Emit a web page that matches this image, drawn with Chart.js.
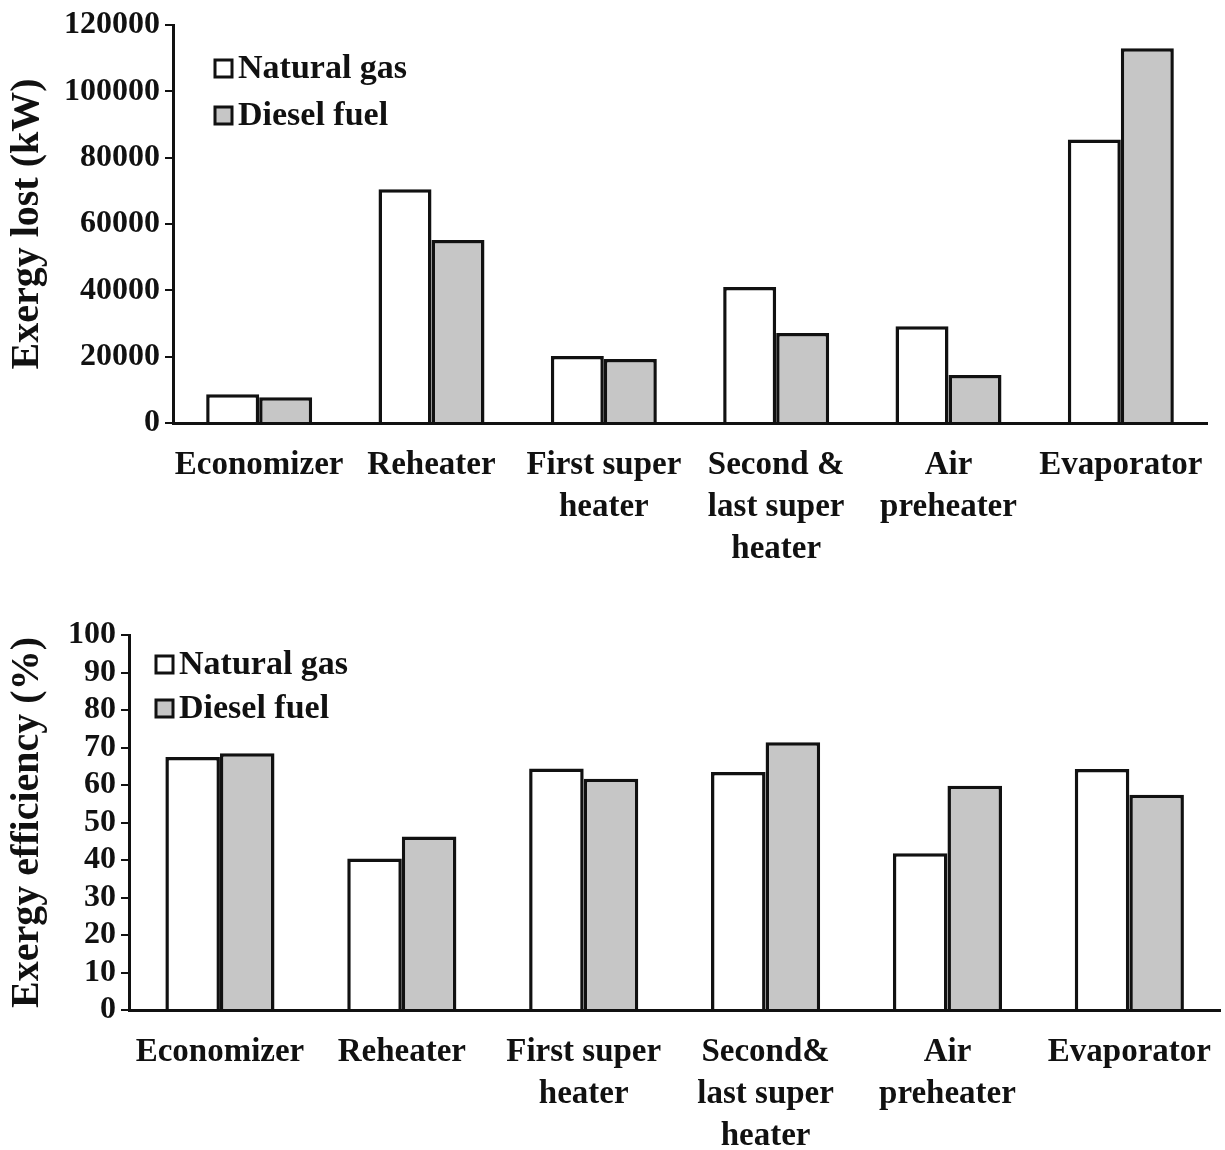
<!DOCTYPE html>
<html>
<head>
<meta charset="utf-8">
<script src="https://cdn.jsdelivr.net/npm/chart.js@4.4.1/dist/chart.umd.min.js"></script>
<style>
  html, body { margin: 0; padding: 0; background: #fff; }
  #wrap { position: relative; width: 1225px; height: 1150px; }
  #lostBox { position: absolute; left: 0; top: 0; }
  #effBox { position: absolute; left: 0; top: 580px; }
</style>
</head>
<body>
<div id="wrap">
  <div id="lostBox"><canvas id="lostChart" width="1225" height="580"></canvas></div>
  <div id="effBox"><canvas id="effChart" width="1225" height="570"></canvas></div>
</div>
<script>
// categories
const lostCategories = ["Economizer", "Reheater", ["First super", "heater"], ["Second &", "last super", "heater"], ["Air", "preheater"], "Evaporator"];
const effCategories = ["Economizer", "Reheater", ["First super", "heater"], ["Second&", "last super", "heater"], ["Air", "preheater"], "Evaporator"];

// exergy lost (kW)
const lostNaturalGas = [8700, 70500, 20200, 41000, 29200, 85500];
const lostDiesel = [7800, 55200, 19300, 27100, 14500, 113000];

// exergy efficiency (%)
const effNaturalGas = [67.5, 40.4, 64.4, 63.5, 41.8, 64.3];
const effDiesel = [68.5, 46.3, 61.7, 71.4, 59.8, 57.4];

const seriesNames = ["Natural gas", "Diesel fuel"];

const FONT = "'Liberation Serif', 'Times New Roman', serif";
const INK = "#111";
const GREY = "#c6c6c6";

// legend drawn inside the plot, top-left
const insideLegend = {
  id: "insideLegend",
  afterDraw(chart, args, opts) {
    const { ctx, chartArea } = chart;
    ctx.save();
    ctx.font = "bold 34px " + FONT;
    ctx.textBaseline = "middle";
    chart.data.datasets.forEach((ds, i) => {
      const x = chartArea.left + opts.x;
      const y = chartArea.top + opts.y + i * opts.gap;
      ctx.fillStyle = ds.backgroundColor;
      ctx.fillRect(x, y - 8, 17, 17);
      ctx.lineWidth = 3;
      ctx.strokeStyle = INK;
      ctx.strokeRect(x, y - 8, 17, 17);
      ctx.fillStyle = INK;
      ctx.fillText(ds.label, x + 23, y + 1);
    });
    ctx.restore();
  }
};

function makeChart(id, labels, ng, df, yOpts, box) {
  return new Chart(document.getElementById(id), {
    type: "bar",
    data: {
      labels: labels,
      datasets: [
        { label: seriesNames[0], data: ng, backgroundColor: "#ffffff", borderColor: INK, borderWidth: 3.5 },
        { label: seriesNames[1], data: df, backgroundColor: GREY, borderColor: INK, borderWidth: 3.5 }
      ]
    },
    options: {
      responsive: false,
      animation: false,
      layout: { padding: { left: 0, right: box.right, top: box.top, bottom: 0 } },
      datasets: { bar: { categoryPercentage: box.cat, barPercentage: 1.0 } },
      plugins: {
        legend: { display: false },
        tooltip: { enabled: false },
        insideLegend: box.legend
      },
      scales: {
        x: {
          grid: { display: false },
          border: { display: true, color: INK, width: 3 },
          ticks: {
            color: INK, autoSkip: false, maxRotation: 0, padding: 14,
            font: { family: FONT, size: 33, weight: "bold", lineHeight: 1.27 }
          },
          afterFit: (s) => { s.height = box.xh; }
        },
        y: {
          min: 0, max: yOpts.max,
          grid: { display: true, drawOnChartArea: false, drawTicks: true, tickLength: 8, color: INK, lineWidth: 2 },
          border: { display: true, color: INK, width: 3 },
          ticks: {
            stepSize: yOpts.step, autoSkip: false, color: INK, padding: 5,
            font: { family: FONT, size: 32, weight: "bold" },
            callback: (v) => String(v)
          },
          title: {
            display: true, text: yOpts.title, color: INK, padding: { top: 4, bottom: 0 },
            font: { family: FONT, size: 40, weight: "bold" }
          },
          afterFit: (s) => { s.width = box.yw; }
        }
      }
    },
    plugins: [insideLegend]
  });
}

makeChart("lostChart", lostCategories, lostNaturalGas, lostDiesel,
  { max: 120000, step: 20000, title: "Exergy lost (kW)" },
  { right: 18, top: 25, xh: 157, yw: 173, cat: 0.615, legend: { x: 42, y: 43, gap: 47 } });

makeChart("effChart", effCategories, effNaturalGas, effDiesel,
  { max: 100, step: 10, title: "Exergy efficiency (%)" },
  { right: 1, top: 55, xh: 140, yw: 129, cat: 0.60, legend: { x: 27, y: 29, gap: 44 } });
</script>
</body>
</html>
